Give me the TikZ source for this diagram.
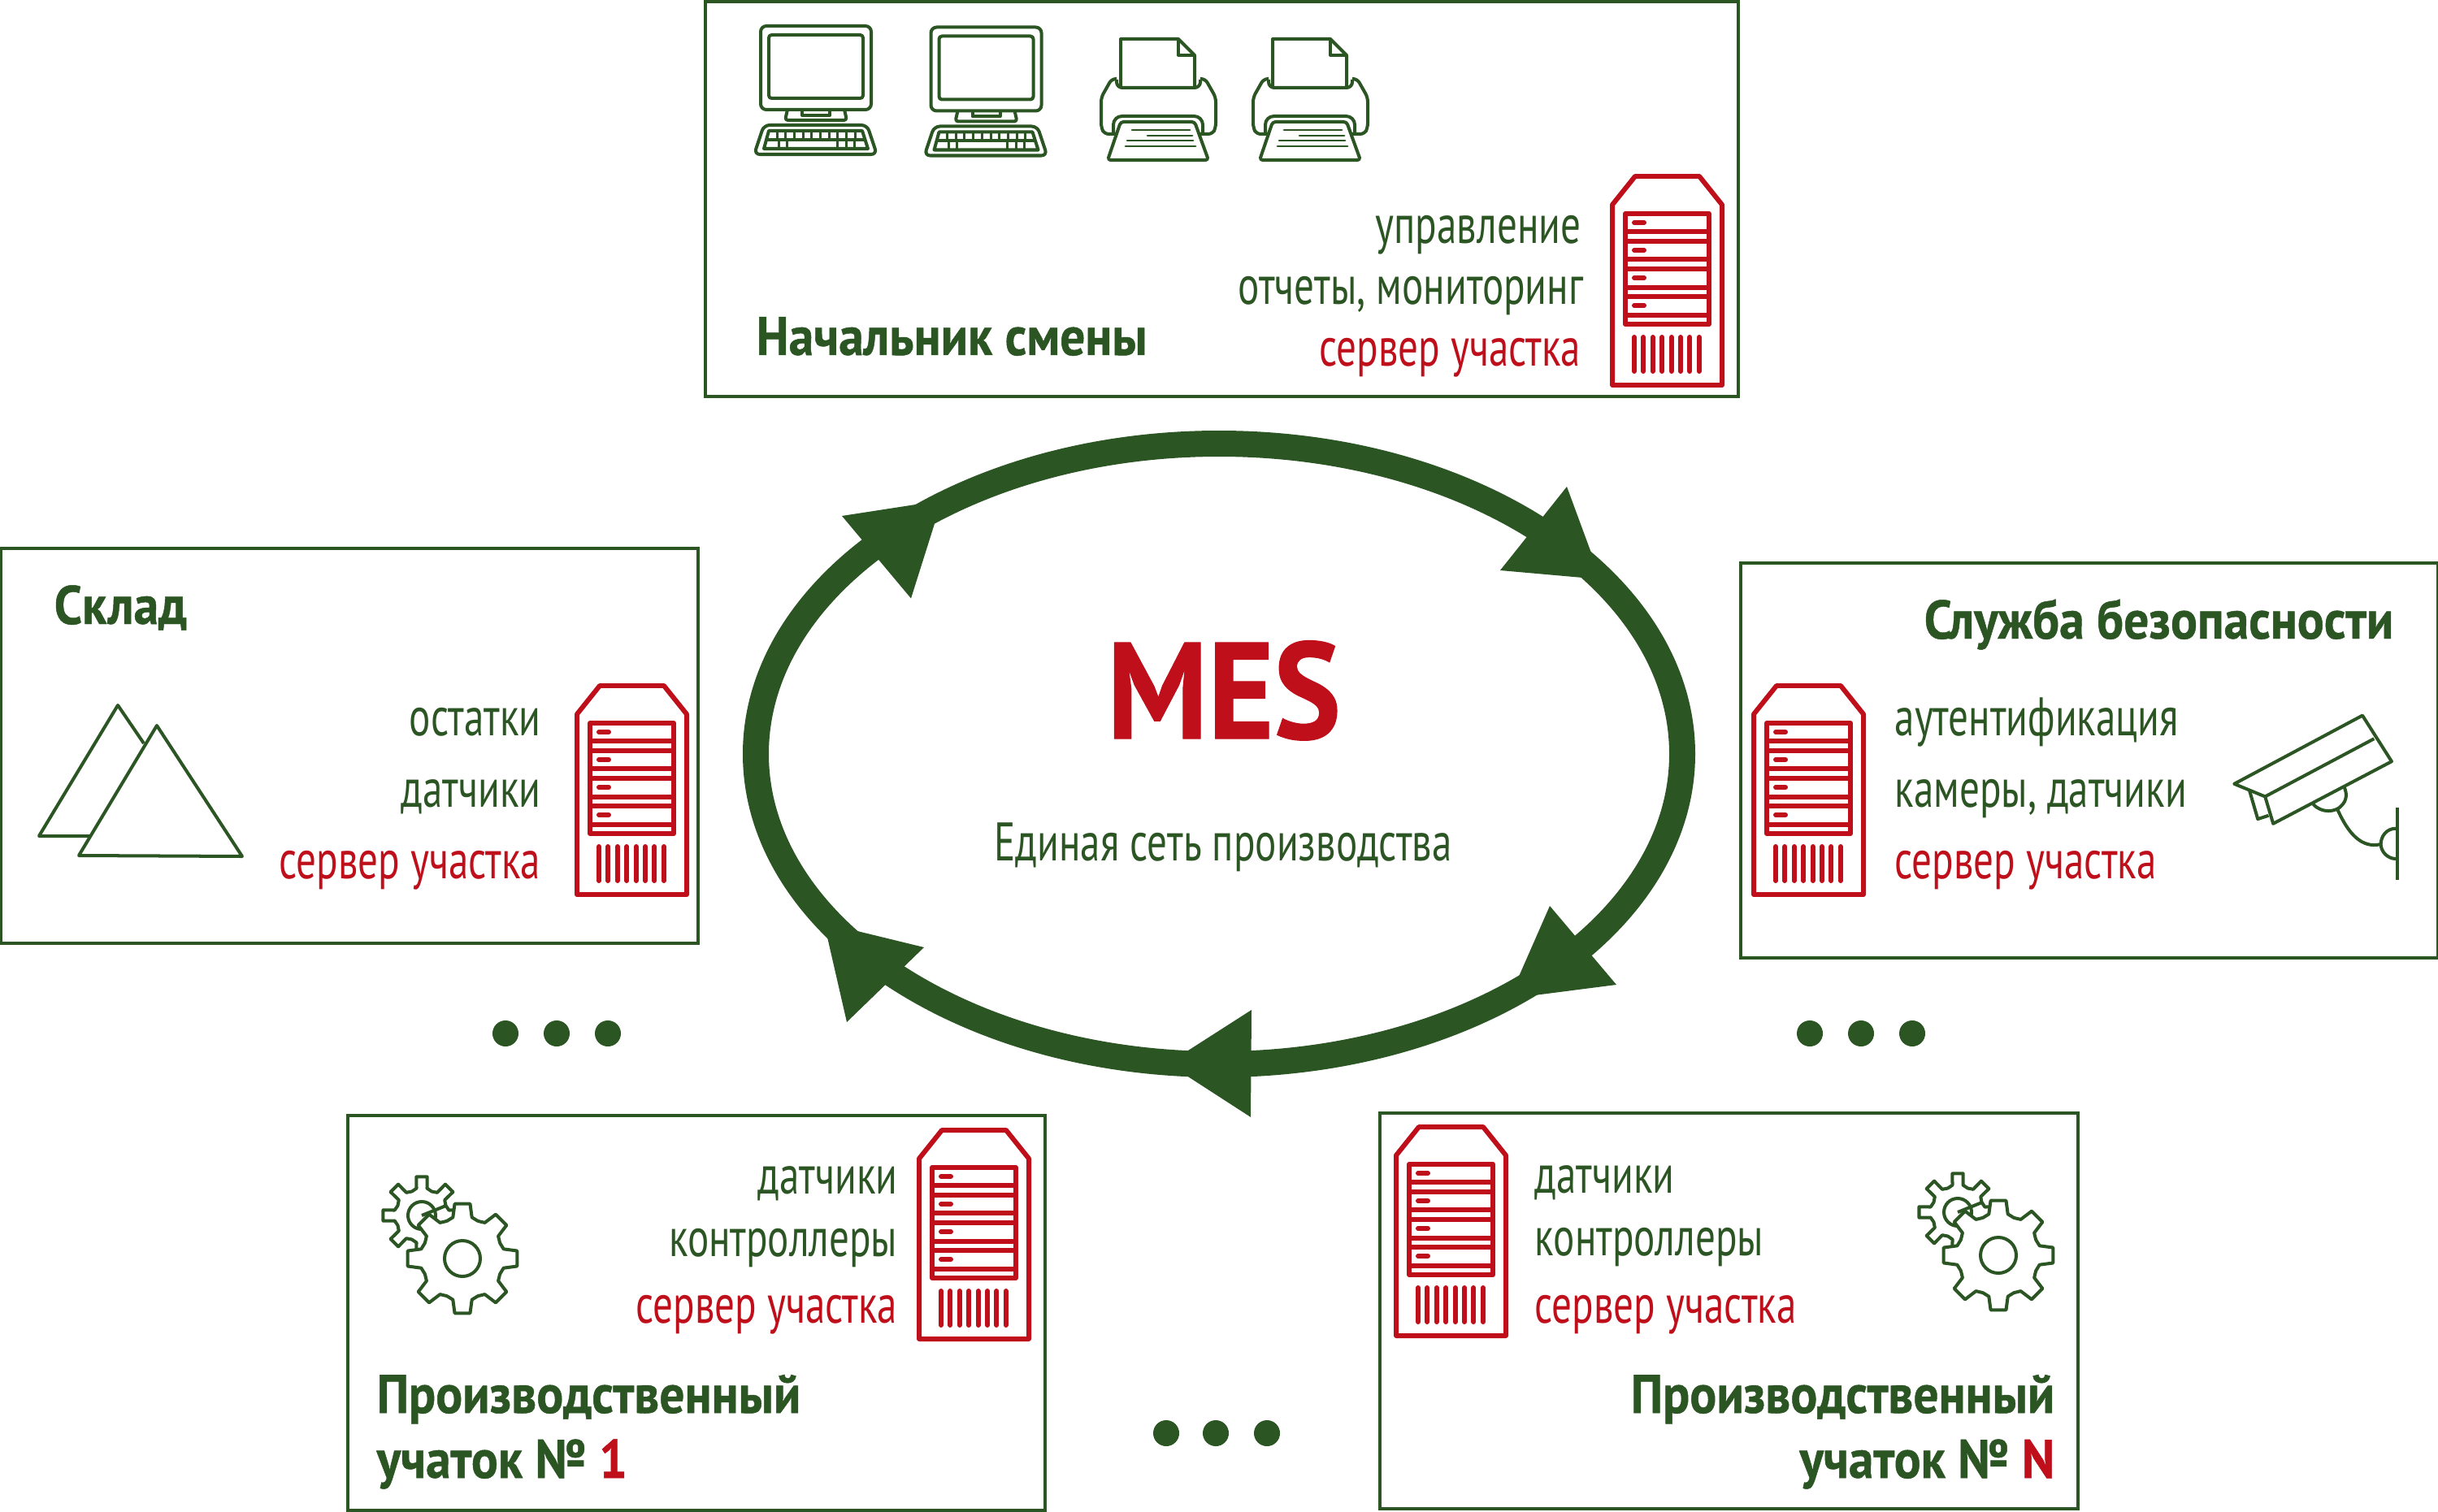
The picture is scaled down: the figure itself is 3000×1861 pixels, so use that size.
\documentclass[tikz,border=0pt]{standalone}
\usepackage{fontspec}
\setmainfont{PT Sans}
\newfontfamily\bodyf[FakeStretch=0.735]{PT Sans}
\newfontfamily\titlef[FakeStretch=0.92,BoldFeatures={FakeStretch=0.92,FakeBold=0.7}]{PT Sans}
\definecolor{mgreen}{HTML}{2C5524}
\definecolor{mred}{HTML}{BE0F1B}
\tikzset{
 x=0.01cm,y=-0.01cm,
 panel/.style={draw=mgreen,line width=1.14pt,fill=none,inner sep=0pt,outer sep=0pt},
 gl/.style={draw=mgreen,line width=1.14pt,line join=round},
 gt/.style={draw=mgreen,line width=0.85pt,line join=round,line cap=round},
 rl/.style={draw=mred,line width=1.7pt,line join=round},
 body/.style={text=mgreen,inner sep=0pt,font=\bodyf\fontsize{19}{22}\selectfont},
 bodyr/.style={body,text=mred},
 ttl/.style={text=mgreen,inner sep=0pt,font=\titlef\bfseries\fontsize{19}{22}\selectfont},
 head/.style={fill=mgreen,draw=none},
 dot/.style={circle,fill=mgreen,draw=none,minimum size=0.32cm,inner sep=0pt},
 server/.pic={
  \draw[rl] (1,35)--(29,0)--(108,0)--(136,35)--(136,257)--(1,257)--cycle;
  \draw[rl] (17,46) rectangle (120,182);
  \foreach \yy in {68,80,102,114,137,148,171}{\draw[rl] (17,\yy)--(120,\yy);}
  \foreach \yy in {57,91,125,159}{\draw[rl,line cap=round] (28,\yy)--(40,\yy);}
  \foreach \xx in {28,39.4,50.8,62.2,73.6,85,96.4,107.8}{\draw[rl,line cap=round] (\xx,198)--(\xx,240);}
 },
 monitor/.pic={
  \draw[gl,rounded corners=2pt] (0,0) rectangle (136,103);
  \draw[gl,rounded corners=1pt] (10,11) rectangle (126,89);
  \draw[gl,rounded corners=1pt] (33,103)--(30,116)--(106,116)--(103,103);
  \draw[gl] (51,103)--(51,110)--(85,110)--(85,103);
  \draw[gl,rounded corners=2pt] (4,122)--(131,122)--(143,158)--(-8,158)--cycle;
  \draw[gl] (10,129)--(125,129)--(132,151)--(4,151)--cycle;
  \draw[gl] (7,140)--(129,140);
  \foreach \xx in {20,30.7,41.4,52.1,62.8,73.5,84.2,94.9,105.6,116.3}{\draw[gt] (\xx,129)--(\xx,140);}
  \foreach \xx in {22,32,94,105,115}{\draw[gt] (\xx,140)--(\xx,151);}
 },
 printer/.pic={
  \draw[gl,rounded corners=1.5pt] (20,49)--(14,49)--(1,72)--(1,109)--(5,117)--(20,117);
  \draw[gl,rounded corners=1.5pt] (123,49)--(129,49)--(142,72)--(142,109)--(138,117)--(123,117);
  \draw[gl,rounded corners=2pt] (20,50)--(20,60)--(123,60)--(123,50);
  \draw[gl] (25,59)--(25,0)--(96,0)--(116,20)--(116,59);
  \draw[gl] (96,0)--(96,20)--(116,20);
  \draw[gl,rounded corners=3pt] (16,118)--(16,95)--(126,95)--(126,118);
  \draw[gl,fill=white,rounded corners=1pt] (25,102)--(116,102)--(133,149)--(9,149)--cycle;
  \draw[gt] (39,112)--(110,112) (58,119)--(113,119) (33,125)--(114,125) (31,132)--(117,132);
 },
 gears/.pic={
  \draw[gl,fill=white] (-50,-53)
   \foreach \a in {0,45,...,315}{
     -- ({-50+32*cos(\a-22)},{-53+32*sin(\a-22)})
     -- ({-50+34*cos(\a-11)},{-53+34*sin(\a-11)})
     -- ({-50+48*cos(\a-8)},{-53+48*sin(\a-8)})
     -- ({-50+48*cos(\a+8)},{-53+48*sin(\a+8)})
     -- ({-50+34*cos(\a+11)},{-53+34*sin(\a+11)})
     -- ({-50+32*cos(\a+22)},{-53+32*sin(\a+22)})
   };
  \draw[gl] (-50,-53) circle[radius=17];
  \fill[white] (0,0) circle[radius=50];
  \draw[gl,fill=white] 
   \foreach \a [count=\n] in {0,45,...,315}{
     \ifnum\n=1 ({50*cos(\a-22)},{50*sin(\a-22)})\else --({50*cos(\a-22)},{50*sin(\a-22)})\fi
     -- ({52*cos(\a-13)},{52*sin(\a-13)})
     -- ({68*cos(\a-8)},{68*sin(\a-8)})
     -- ({68*cos(\a+8)},{68*sin(\a+8)})
     -- ({52*cos(\a+13)},{52*sin(\a+13)})
     -- ({50*cos(\a+22)},{50*sin(\a+22)})
   } -- cycle;
  \draw[gl] (0,0) circle[radius=22];
 },
}
\begin{document}
\begin{tikzpicture}
\useasboundingbox (0,0) rectangle (3000,1861);
% panels
\node[panel,minimum width=12.70cm,minimum height=4.86cm] (top) at (1503.5,245) {};
\node[panel,minimum width=8.58cm,minimum height=4.86cm] (store) at (430,918) {};
\node[panel,minimum width=8.58cm,minimum height=4.86cm] (sec) at (2571,936) {};
\node[panel,minimum width=8.58cm,minimum height=4.86cm] (pr1) at (857,1616) {};
\node[panel,minimum width=8.58cm,minimum height=4.86cm] (prn) at (2127.5,1613.5) {};
% ring
\draw[mgreen,line width=9.1pt] (1500,928) ellipse[x radius=570,y radius=382];
\fill[head] (1928,599)--(1846,702)--(1970,713)--cycle;
\fill[head] (1907,1115)--(1989,1212)--(1857,1229)--cycle;
\fill[head] (1540,1243)--(1539,1375)--(1437,1309)--cycle;
\fill[head] (1137,1166)--(1042,1258)--(1014,1136)--cycle;
\fill[head] (1036,635)--(1121,736.5)--(1159,616)--cycle;
\node[anchor=base,inner sep=0pt,text=mred,font=\titlef\bfseries\fontsize{48}{50}\selectfont] (mes) at (1506,909) {MES};
\node[body,anchor=base] (net) at (1505,1059) {Единая сеть производства};
% dots
\node[dot] (d1) at (622,1272) {}; \node[dot] (d2) at (685,1272) {}; \node[dot] (d3) at (748,1272) {};
\node[dot] (d4) at (2227,1272) {}; \node[dot] (d5) at (2290,1272) {}; \node[dot] (d6) at (2353,1272) {};
\node[dot] (d7) at (1435,1764) {}; \node[dot] (d8) at (1496,1764) {}; \node[dot] (d9) at (1559,1764) {};
% top panel
\pic at (936,32) {monitor};
\pic at (1145.5,33.5) {monitor};
\pic at (1354,48) {printer};
\pic at (1541,48) {printer};
\pic at (1983,217) {server};
\node[body,anchor=base east] (t1) at (1946,300) {управление};
\node[body,anchor=base east] (t2) at (1949,375) {отчеты, мониторинг};
\node[bodyr,anchor=base east] (t3) at (1946,451) {сервер участка};
\node[ttl,anchor=base west] (t4) at (930,437) {Начальник смены};
% store
\node[ttl,anchor=base west] (s0) at (66,768) {Склад};
\draw[gl] (110,1029)--(48,1029)--(145,868)--(177,915);
\draw[gl] (193,893)--(97,1053)--(298,1054)--cycle;
\pic at (709,844) {server};
\node[body,anchor=base east] (s1) at (666,905) {остатки};
\node[body,anchor=base east] (s2) at (666,993) {датчики};
\node[bodyr,anchor=base east] (s3) at (666,1081) {сервер участка};
% security
\node[ttl,anchor=base east] (c0) at (2946,786) {Служба безопасности};
\pic at (2157,844) {server};
\node[body,anchor=base west] (c1) at (2331,905) {аутентификация};
\node[body,anchor=base west] (c2) at (2331,993) {камеры, датчики};
\node[bodyr,anchor=base west] (c3) at (2331,1081) {сервер участка};
\begin{scope}[shift={(2700,850)},x=0.00333cm,y=-0.00333cm]
\draw[gl] (148,345)--(622,92)--(730,262)--(292,492)--(262,392)--cycle;
\draw[gl] (262,392)--(665,178);
\draw[gl] (205,372)--(235,475)--(275,462);
\draw[gl] (440,420) .. controls (470,455) and (525,450) .. (545,425) .. controls (565,405) and (565,380) .. (555,358);
\draw[gl] (530,440) .. controls (570,530) and (620,585) .. (690,568);
\draw[gl] (752,432)--(752,700);
\draw[gl] (745,510) .. controls (710,510) and (690,540) .. (690,568) .. controls (690,595) and (715,622) .. (745,622);
\end{scope}
% production 1
\pic at (569,1549) {gears};
\pic at (1130,1391) {server};
\node[body,anchor=base east] (p1) at (1105,1469) {датчики};
\node[body,anchor=base east] (p2) at (1105,1546) {контроллеры};
\node[bodyr,anchor=base east] (p3) at (1105,1628) {сервер участка};
\node[ttl,anchor=base west] (p4) at (463,1739) {Производственный};
\node[ttl,anchor=base west] (p5) at (463,1819) {учаток № \textcolor{mred}{1}};
% production N
\pic at (2459,1545) {gears};
\pic at (1717,1387) {server};
\node[body,anchor=base west] (n1) at (1888,1468) {датчики};
\node[body,anchor=base west] (n2) at (1888,1545) {контроллеры};
\node[bodyr,anchor=base west] (n3) at (1888,1628) {сервер участка};
\node[ttl,anchor=base east] (n4) at (2529,1739) {Производственный};
\node[ttl,anchor=base east] (n5) at (2529,1819) {учаток № \textcolor{mred}{N}};
\end{tikzpicture}
\end{document}
